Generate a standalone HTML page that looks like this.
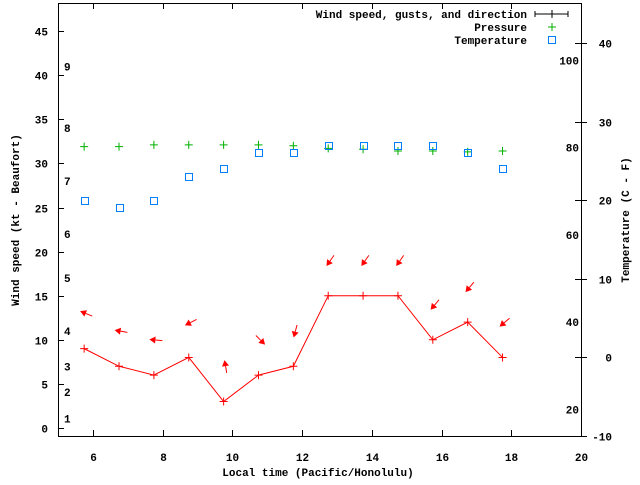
<!DOCTYPE html>
<html><head><meta charset="utf-8"><style>
body{margin:0;background:#fff;}
svg text{font-family:"Liberation Mono",monospace;font-size:11px;font-weight:bold;fill:#000;}
</style></head><body>
<svg id="chart" width="640" height="480" xmlns="http://www.w3.org/2000/svg">
<g id="axes"></g>
<g id="marks"></g>
<g id="legend">
 <text x="527" y="18" text-anchor="end">Wind speed, gusts, and direction</text>
 <line x1="535" y1="14" x2="568" y2="14" stroke="#000"/>
 <line x1="535" y1="11" x2="535" y2="17" stroke="#000"/><line x1="568" y1="11" x2="568" y2="17" stroke="#000"/>
 <line x1="548" y1="14" x2="556" y2="14" stroke="#000"/><line x1="552" y1="10" x2="552" y2="18" stroke="#000"/>
 <text x="527" y="31" text-anchor="end">Pressure</text>
 <path d="M548 27h8M552 23v8" stroke="#00b000"/>
 <text x="527" y="44" text-anchor="end">Temperature</text>
 <rect x="548.5" y="36.5" width="7" height="7" fill="none" stroke="#0080ff"/>
</g>
<text x="318" y="476" text-anchor="middle">Local time (Pacific/Honolulu)</text>
<text transform="translate(19,220) rotate(-90)" text-anchor="middle">Wind speed (kt - Beaufort)</text>
<text transform="translate(629,220) rotate(-90)" text-anchor="middle">Temperature (C - F)</text>
</svg>
<script>
const times=[5.75,6.75,7.75,8.75,9.75,10.75,11.75,12.75,13.75,14.75,15.75,16.75,17.75];
const windSpeed=[9,7,6,8,3,6,7,15,15,15,10,12,8];
const windFrom=[112,100,95,63,170,315,15,35,35,35,40,40,50];
const pressure=[31.9,31.9,32.1,32.1,32.1,32.1,32,31.7,31.6,31.4,31.4,31.3,31.4];
const tempC=[20,19,20,23,24,26,26,27,27,27,27,26,24];
const xTicks=[6,8,10,12,14,16,18,20];
const yTicks=[0,5,10,15,20,25,30,35,40,45];
const y2Ticks=[-10,0,10,20,30,40];
const beaufort=[[1,1.1],[2,4.1],[3,7],[4,11],[5,17],[6,22],[7,28],[8,34],[9,41]];
const fahr=[20,40,60,80,100];
const L=58,R=581,T=3,B=436;
const X=v=>L+(v-5)/15*(R-L);
const Y=v=>428-v*8.82;
const Y2=c=>357-c*7.85;
const NS="http://www.w3.org/2000/svg";
function mk(p,tag,at){const e=document.createElementNS(NS,tag);for(const k in at)e.setAttribute(k,at[k]);p.appendChild(e);return e;}
const ax=document.getElementById('axes'),mg=document.getElementById('marks');
let r=mk(ax,'rect',{x:L+.5,y:T+.5,width:R-L,height:B-T,fill:'none',stroke:'#000'});


xTicks.forEach(t=>{const x=Math.round(X(t))+.5;
 mk(ax,'line',{x1:x,y1:B,x2:x,y2:B-6,stroke:'#000'});mk(ax,'line',{x1:x,y1:T,x2:x,y2:T+6,stroke:'#000'});
 const e=mk(ax,'text',{x:x,y:B+25,'text-anchor':'middle'});e.textContent=t;
 
 });
yTicks.forEach(t=>{const y=Math.round(Y(t))+.5;
 mk(ax,'line',{x1:L,y1:y,x2:L+6,y2:y,stroke:'#000'});
 const e=mk(ax,'text',{x:L-10,y:y+4,'text-anchor':'end'});e.textContent=t;
 
 });
y2Ticks.forEach(t=>{const y=Math.round(Y2(t))+.5;
 mk(ax,'line',{x1:R-6,y1:y,x2:R+6,y2:y,stroke:'#000'});
 const e=mk(ax,'text',{x:R+31,y:y+4,'text-anchor':'end'});e.textContent=t;
 
 });
beaufort.forEach(b=>{const e=mk(ax,'text',{x:64,y:Y(b[1])+4});e.textContent=b[0];
 
 });
fahr.forEach(f=>{const e=mk(ax,'text',{x:R-2,y:Y2((f-32)*5/9)+4,'text-anchor':'end'});e.textContent=f;
 
 });
// wind line
let pl=mk(mg,'polyline',{points:times.map((t,i)=>X(t)+','+Y(windSpeed[i])).join(' '),fill:'none',stroke:'#f00'});


times.forEach((t,i)=>{const x=X(t),y=Y(windSpeed[i]);
 const p=mk(mg,'path',{d:`M${x-4} ${y}h8M${x} ${y-4}v8`,stroke:'#f00'});
 
 
 // arrow: points downwind
 const a=(windFrom[i]+180)*Math.PI/180,dx=Math.sin(a),dy=-Math.cos(a);
 const cx=x+2,cy=y-35,len=13;
 const hx=cx+dx*len/2,hy=cy+dy*len/2,tx=cx-dx*len/2,ty=cy-dy*len/2;
 const bx=hx-dx*6,by=hy-dy*6,px=-dy,py=dx;
 const g=mk(mg,'g',{});
 
 
 mk(g,'line',{x1:tx,y1:ty,x2:bx,y2:by,stroke:'#f00'});
 mk(g,'polygon',{points:`${hx},${hy} ${bx+px*3.5},${by+py*3.5} ${bx-px*3.5},${by-py*3.5}`,fill:'#f00'});
 const pr=mk(mg,'path',{d:`M${x-4} ${Y(pressure[i])}h8M${x} ${Y(pressure[i])-4}v8`,stroke:'#00b000'});
 
 
 const tb=mk(mg,'rect',{x:Math.round(x-3.5)+.5,y:Math.round(Y2(tempC[i])-3.5)+.5,width:7,height:7,fill:'none',stroke:'#0080ff'});
 
 
});
</script>
</body></html>
